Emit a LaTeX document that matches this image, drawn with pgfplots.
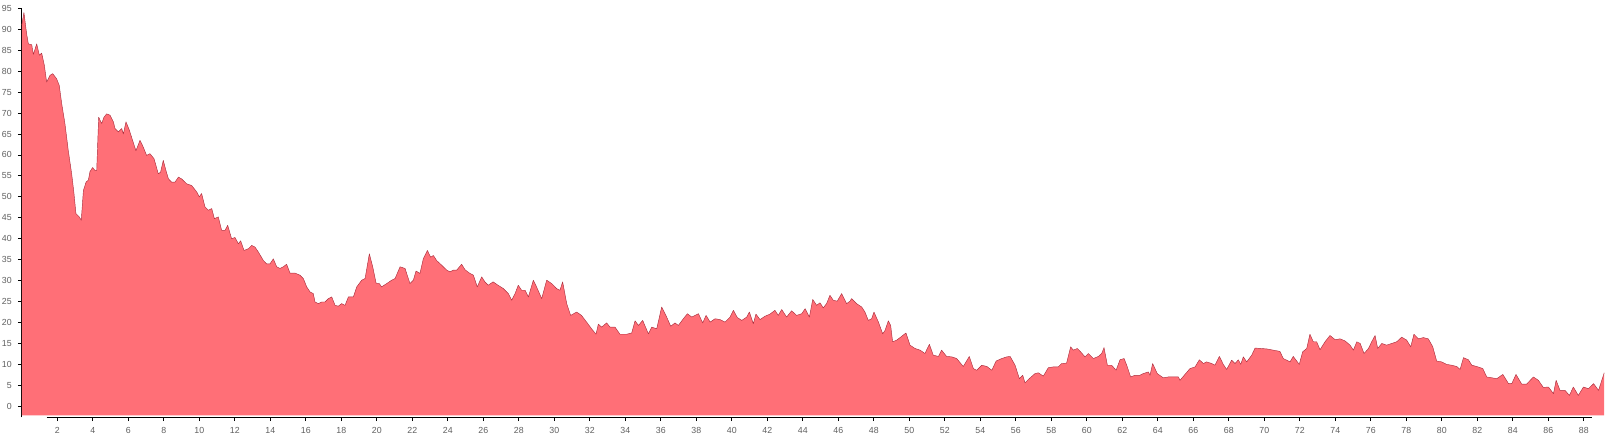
\documentclass[border=0pt]{standalone}
\usepackage{pgfplots}
\pgfplotsset{compat=1.18}
\usepackage{pgfplotstable}
\usepackage{fontspec}
\setmainfont{Liberation Sans}
\definecolor{areafill}{RGB}{255,111,119}
\definecolor{areaedge}{RGB}{170,45,60}
\definecolor{ticklab}{RGB}{95,95,95}
\pgfplotstableread{
x y
0 91
0.12 94
0.27 89
0.37 86.5
0.56 86.3
0.65 84
0.84 86.5
0.99 83.8
1.12 84.3
1.27 81.4
1.40 77.4
1.59 79
1.74 79.4
1.96 78.2
2.11 76.6
2.25 72.2
2.43 67.5
2.62 61
2.81 55.5
2.94 50.8
3.05 46
3.24 45.2
3.35 44.4
3.47 51.5
3.62 53.5
3.75 54
3.84 56
3.99 57
4.12 56.3
4.22 56.3
4.33 69
4.50 67.5
4.63 69
4.78 69.8
4.97 69.5
5.16 67.9
5.25 66.3
5.44 65.5
5.63 66.3
5.72 65
5.87 67.9
6.06 65.9
6.24 63.5
6.43 61
6.66 63.5
6.84 61.9
7.03 59.9
7.22 60.3
7.45 59.1
7.69 55.5
7.82 55.9
7.97 58.7
8.12 56.3
8.26 54.3
8.44 53.5
8.63 53.5
8.82 54.7
9.00 54.3
9.29 53.1
9.57 52.7
9.85 51.2
10.00 50
10.13 50.8
10.32 47.6
10.51 46.8
10.70 47.2
10.85 44.8
11.07 45.2
11.26 42
11.45 42
11.60 43.2
11.82 40
12.01 40.3
12.20 38.8
12.33 39.5
12.52 37.2
12.76 37.6
12.95 38.4
13.14 38
13.33 36.8
13.61 34.8
13.79 34
13.98 34
14.17 35.2
14.36 33.3
14.55 32.9
14.73 33.3
14.92 33.9
15.11 31.8
15.39 31.8
15.67 31.3
15.86 30.5
16.05 28.5
16.24 27.3
16.42 26.9
16.52 24.9
16.71 24.5
16.89 24.9
17.08 24.9
17.27 25.7
17.46 26.1
17.65 24.1
17.83 23.9
18.02 24.5
18.21 24.1
18.40 26.1
18.68 26.1
18.87 28.5
19.15 30.1
19.34 30.5
19.58 36.4
19.77 33.3
19.96 29.4
20.14 29.3
20.27 28.5
20.56 29.3
20.84 30.1
21.03 30.5
21.31 33.3
21.59 32.9
21.87 29.3
22.06 30.1
22.21 32.3
22.43 31.7
22.62 35.2
22.85 37.2
23.03 35.6
23.19 36
23.37 34.8
23.65 33.7
23.94 32.5
24.12 32.1
24.31 32.5
24.50 32.5
24.78 33.9
24.97 32.6
25.25 31.7
25.44 31.3
25.66 28.5
25.91 30.9
26.09 29.7
26.28 28.9
26.55 29.7
26.83 28.9
27.13 28.1
27.41 26.9
27.60 25.3
27.79 26.9
27.97 28.9
28.16 27.7
28.35 27.7
28.54 26.1
28.82 30.1
29.00 28.5
29.29 25.7
29.57 30.1
29.85 29.3
30.13 28.1
30.32 27.7
30.47 29.7
30.70 24.5
30.92 21.7
31.26 22.5
31.53 21.7
31.82 20.1
32.10 18.5
32.35 17.2
32.48 19.6
32.67 18.9
32.95 19.9
33.14 18.9
33.42 18.9
33.70 17.2
34.08 17.2
34.36 17.5
34.55 20.4
34.74 19.3
34.98 20.5
35.30 17.3
35.49 18.9
35.77 18.5
36.05 23.7
36.33 21.3
36.56 19.1
36.80 19.9
36.99 19.3
37.27 20.9
37.50 22.1
37.74 21.3
38.12 22.1
38.36 19.9
38.55 21.7
38.78 20.1
39.06 20.9
39.33 20.7
39.62 20.1
39.90 21.3
40.09 22.9
40.31 21.2
40.56 20.5
40.84 21.3
40.99 22.5
41.21 19.7
41.36 22.0
41.59 20.7
41.87 21.5
42.15 22.0
42.43 22.9
42.62 21.7
42.81 23.1
43.09 21.3
43.37 22.8
43.65 21.7
43.94 22.1
44.13 23.3
44.37 21.3
44.56 25.5
44.78 24.1
44.97 24.7
45.15 23.5
45.34 24.5
45.53 26.5
45.72 25.3
45.94 25.1
46.19 26.9
46.47 24.5
46.66 25.1
46.75 25.7
47.03 24.5
47.32 23.7
47.50 22.5
47.69 20.5
47.88 20.9
48.01 22.5
48.26 20.1
48.50 17.3
48.63 18.1
48.82 20.4
48.95 19.3
49.06 15.4
49.29 15.8
49.57 16.7
49.81 17.5
50.04 14.6
50.32 13.8
50.61 13.4
50.88 12.6
51.13 14.8
51.35 12.2
51.64 11.9
51.82 13.4
52.10 11.9
52.39 11.8
52.67 11.4
53.04 9.5
53.38 11.9
53.61 9.0
53.80 8.6
54.08 9.8
54.37 9.5
54.65 8.6
54.89 10.8
55.21 11.4
55.49 11.8
55.68 11.9
55.96 9.8
56.20 6.6
56.39 7.4
56.52 5.6
56.76 6.6
57.08 7.8
57.27 8.0
57.55 7.2
57.83 9.2
58.11 9.4
58.39 9.4
58.58 10.2
58.86 10.3
59.09 14.2
59.24 13.4
59.47 13.8
59.65 13.0
59.90 11.8
60.09 12.6
60.37 11.4
60.65 11.9
60.84 12.6
60.97 14.0
61.16 9.8
61.40 9.8
61.65 8.6
61.87 11.1
62.10 11.4
62.25 9.8
62.47 7.0
62.71 7.4
62.99 7.4
63.18 7.8
63.47 8.2
63.56 7.4
63.71 10.2
63.97 7.8
64.31 6.8
64.59 7.0
64.88 7.0
65.16 7.0
65.25 6.2
65.53 7.6
65.81 9.0
66.10 9.4
66.34 11.1
66.57 10.2
66.75 10.6
67.04 10.2
67.22 9.8
67.47 11.9
67.69 10.0
67.88 8.8
68.16 11.0
68.35 10.2
68.54 11.1
68.67 10.0
68.82 11.8
69.01 10.6
69.29 12.2
69.48 13.9
70.13 13.7
70.88 13.1
71.07 11.4
71.26 11.0
71.45 10.6
71.63 11.9
71.97 10.0
72.16 13.0
72.39 13.8
72.57 17.2
72.76 15.4
72.95 15.4
73.14 13.5
73.42 15.4
73.70 16.9
73.99 15.9
74.27 16.1
74.55 15.6
74.83 14.6
75.02 13.4
75.21 15.4
75.40 15.0
75.62 12.6
75.87 13.8
76.05 15.4
76.24 16.9
76.39 13.8
76.62 15.0
76.89 14.6
77.18 15.0
77.46 15.4
77.74 16.5
78.02 15.8
78.25 14.2
78.43 17.2
78.68 16.1
78.96 16.4
79.24 16.1
79.49 14.2
79.71 10.8
79.99 10.6
80.28 10.0
80.56 9.8
80.84 9.5
81.03 8.8
81.22 11.6
81.50 11.1
81.69 9.8
81.97 9.5
82.31 9.0
82.53 7.0
82.82 6.8
83.10 6.6
83.44 7.6
83.76 5.4
83.94 5.4
84.18 7.6
84.50 5.3
84.78 5.3
85.16 7.0
85.44 6.2
85.72 4.5
86.01 4.6
86.29 3.0
86.44 6.2
86.66 3.8
86.94 3.8
87.19 2.6
87.41 4.6
87.69 2.6
87.98 4.6
88.26 4.2
88.55 5.4
88.83 3.8
89.15 8.0
}\datatable
\begin{document}
\begin{tikzpicture}
\begin{axis}[
  at={(0,0)}, anchor=south west,
  scale only axis, width=791.2pt, height=204.5pt,
  xmin=0, xmax=89.15, ymin=-2.63, ymax=95,
  axis x line*=bottom, axis y line*=left,
  axis line style={-},
  x axis line style={draw=none},
  y axis line style={black, line width=0.5pt},
  tick align=outside,
  major tick length=1.9pt,
  xtick={2,4,...,88}, ytick={0,5,...,95},
  minor tick num=0,
  tick style={black, line width=0.4pt},
  ticklabel style={font=\fontsize{4.4}{5}\selectfont, text=ticklab},
  xticklabel style={yshift=0.3pt},
  yticklabel style={xshift=0.4pt},
  /pgf/number format/assume math mode=true,
  clip=false,
]
\addplot[fill=areafill, draw=none] table[x=x, y=y] {\datatable} |- (axis cs:0,-2.15) -- cycle;
\addplot[draw=areaedge, line width=0.22pt, line join=round] table[x=x, y=y] {\datatable};
\draw[black, line width=0.5pt] (axis cs:1.40,-2.63) -- (axis cs:88.45,-2.63);
\end{axis}
\pgfresetboundingbox
\path (-10.9pt,-8.8pt) rectangle (792.6pt,208.65pt);
\end{tikzpicture}
\end{document}
